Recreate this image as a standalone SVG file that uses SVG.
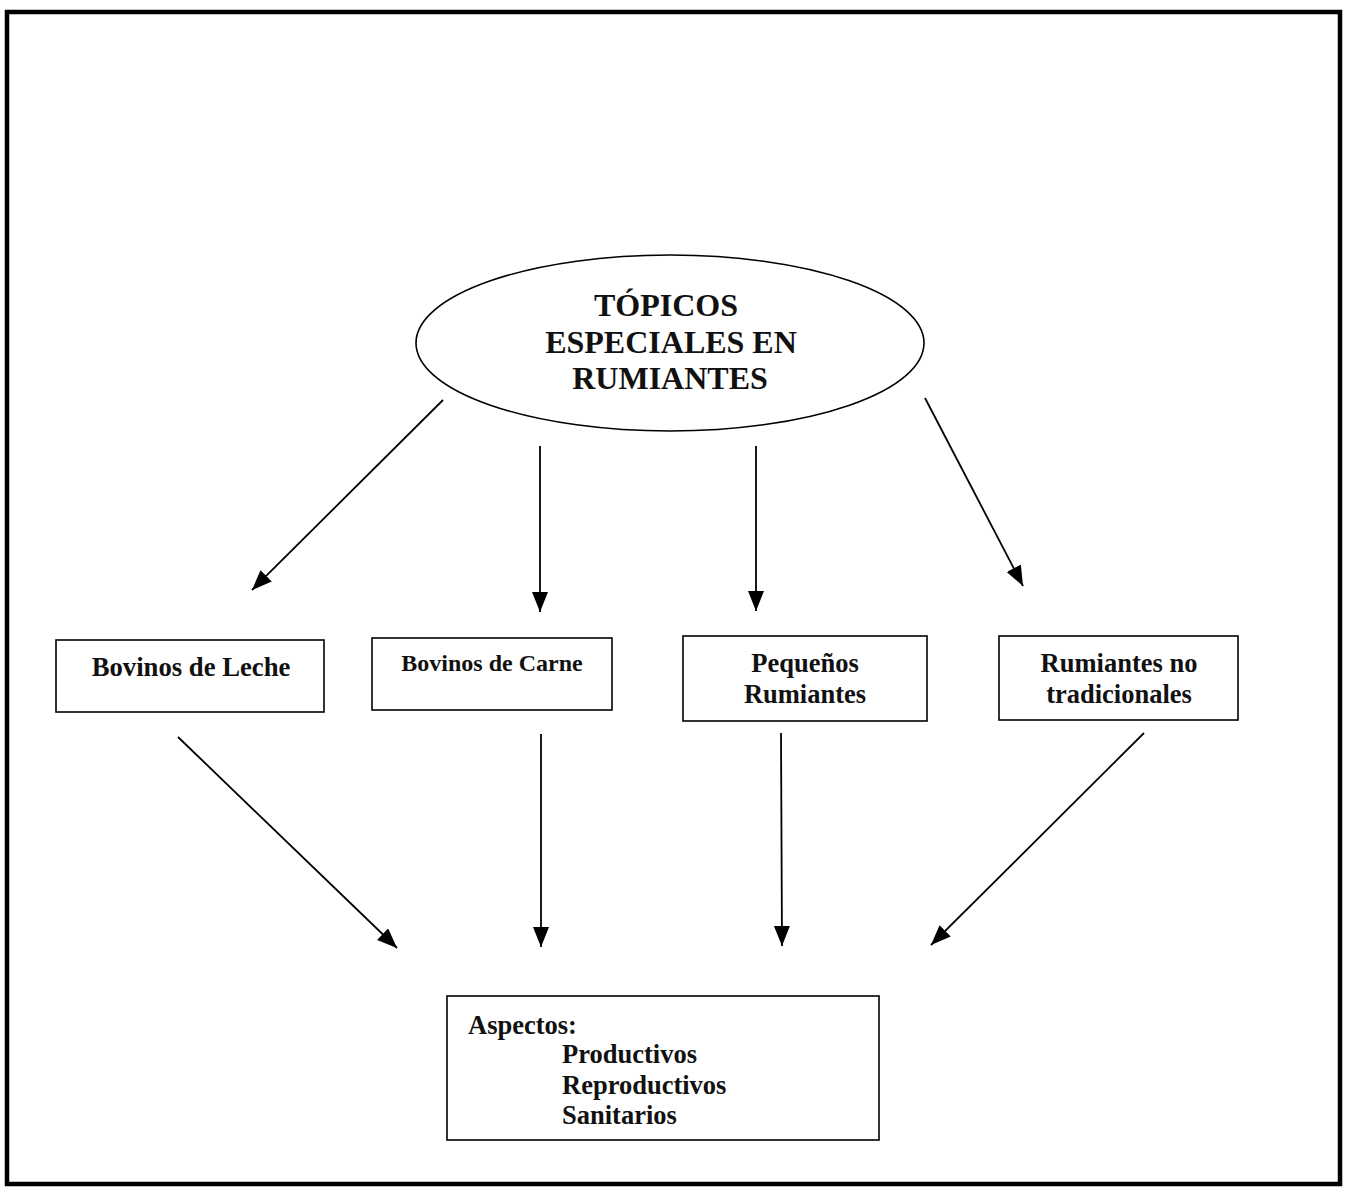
<svg xmlns="http://www.w3.org/2000/svg" width="1347" height="1187" viewBox="0 0 1347 1187">
<style>
.box{fill:#fff;stroke:#000;stroke-width:1.6}
.t{font-family:"Liberation Serif","Times New Roman",serif;font-weight:bold;fill:#111;text-anchor:middle}
.tl{font-family:"Liberation Serif","Times New Roman",serif;font-weight:bold;fill:#111}
.c{stroke:#000;stroke-width:1.8;fill:none;marker-end:url(#ah)}
</style>
<defs>
<marker id="ah" markerUnits="userSpaceOnUse" markerWidth="24" markerHeight="18" refX="20" refY="8" orient="auto">
<path d="M0,0 L20,8 L0,16 Z" fill="#000"/>
</marker>
</defs>
<rect x="0" y="0" width="1347" height="1187" fill="#fff"/>
<rect id="frame" x="7" y="12" width="1333" height="1172" fill="none" stroke="#000" stroke-width="4.5"/>
<g id="connectors">
<line class="c" x1="443" y1="400" x2="252" y2="590"/>
<line class="c" x1="540" y1="446" x2="540" y2="612"/>
<line class="c" x1="756" y1="446" x2="756" y2="611"/>
<line class="c" x1="925" y1="398" x2="1023" y2="586"/>
<line class="c" x1="178" y1="737" x2="397" y2="948"/>
<line class="c" x1="541" y1="734" x2="541" y2="947"/>
<line class="c" x1="781" y1="733" x2="782" y2="946"/>
<line class="c" x1="1144" y1="733" x2="931" y2="945"/>
</g>
<g id="root">
<ellipse cx="670" cy="343" rx="254" ry="88" fill="#fff" stroke="#000" stroke-width="1.6"/>
<text class="t" x="666" y="316" font-size="32">TÓPICOS</text>
<text class="t" x="671" y="353" font-size="32">ESPECIALES EN</text>
<text class="t" x="670" y="389" font-size="32">RUMIANTES</text>
</g>
<g id="leche">
<rect class="box" x="56" y="640" width="268" height="72"/>
<text class="t" x="191" y="676" font-size="26.7">Bovinos de Leche</text>
</g>
<g id="carne">
<rect class="box" x="372" y="638" width="240" height="72"/>
<text class="t" x="492" y="671" font-size="24">Bovinos de Carne</text>
</g>
<g id="pequenos">
<rect class="box" x="683" y="636" width="244" height="85"/>
<text class="t" x="805" y="672" font-size="26.5">Pequeños</text>
<text class="t" x="805" y="703" font-size="26.5">Rumiantes</text>
</g>
<g id="notrad">
<rect class="box" x="999" y="636" width="239" height="84"/>
<text class="t" x="1119" y="672" font-size="26.5">Rumiantes no</text>
<text class="t" x="1119" y="703" font-size="26.5">tradicionales</text>
</g>
<g id="aspectos">
<rect class="box" x="447" y="996" width="432" height="144"/>
<text class="tl" x="468" y="1034" font-size="26.5">Aspectos:</text>
<text class="tl" x="562" y="1063" font-size="26.5">Productivos</text>
<text class="tl" x="562" y="1094" font-size="26.5">Reproductivos</text>
<text class="tl" x="562" y="1124" font-size="26.5">Sanitarios</text>
</g>
</svg>
